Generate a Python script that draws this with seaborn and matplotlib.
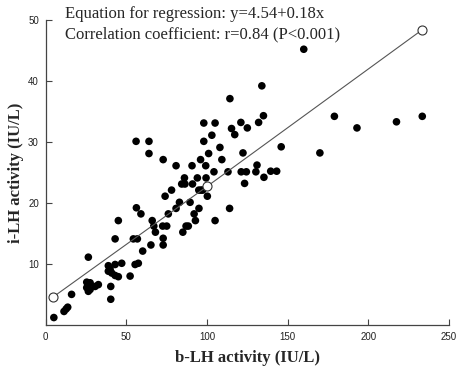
import numpy as np
import pandas as pd
import seaborn as sns
import matplotlib
matplotlib.use("Agg")
import matplotlib.pyplot as plt

# values
b_lh = [5, 11.3, 12.6, 13.6, 16, 26.4, 25.4, 27.5, 25.4, 27.5,
        30.6, 32.6, 26.4, 40.3, 40.3, 38.8, 39.9, 38.8, 40.9, 43,
        45, 43, 47.1, 52.3, 55.4, 57.4, 60.1, 43, 45, 54.3,
        56.8, 56.2, 59, 56, 64, 64, 65.2, 66, 67, 68,
        72.8, 72.8, 72.8, 72.5, 75, 74, 76, 78, 80.8, 80.8,
        82.9, 84.3, 86, 86.3, 85, 87, 88.4, 89.5, 90.7, 91,
        92, 92.8, 94, 94.9, 96.3, 97.3, 95, 96, 98, 98,
        99.2, 99.4, 100.2, 101, 103, 104.3, 105, 105, 108, 109.2,
        113, 114, 114.2, 115.2, 117.2, 121, 125, 132, 122.3, 121.2,
        124.4, 131, 130.3, 135.3, 139.5, 143.2, 123.3, 134, 135, 160,
        146, 170, 179, 193, 217.5, 233.5]
i_lh = [1.2, 2.2, 2.6, 2.9, 5.0, 11.1, 7.0, 6.9, 6.1, 5.8,
        6.3, 6.6, 5.5, 6.3, 4.2, 9.7, 9.1, 8.8, 8.5, 8.1,
        7.9, 9.9, 10.1, 8.0, 9.9, 10.1, 12.1, 14.1, 17.1, 14.1,
        14.1, 19.2, 18.2, 30.1, 30.1, 28.1, 13.1, 17.1, 16.2, 15.2,
        27.1, 14.2, 13.1, 16.2, 16.2, 21.1, 18.2, 22.1, 26.1, 19.1,
        20.1, 23.1, 24.1, 23.1, 15.2, 16.2, 16.2, 20.1, 26.1, 23.1,
        18.2, 17.1, 24.1, 22.1, 22.1, 22.1, 19.1, 27.1, 33.1, 30.1,
        26.1, 24.1, 21.1, 28.1, 31.1, 25.1, 33.1, 17.1, 29.1, 27.1,
        25.1, 19.1, 37.1, 32.2, 31.2, 33.2, 32.3, 33.2, 28.2, 25.1,
        25.1, 26.2, 25.1, 24.2, 25.2, 25.2, 23.2, 39.2, 34.3, 45.2,
        29.2, 28.2, 34.2, 32.3, 33.3, 34.2]

# regression line as drawn (ends and middle marked with open circles)
line_x = [4.7, 100, 233.5]
line_y = [4.6, 22.7, 48.4]

x_ticks = [0, 50, 100, 150, 200, 250]
y_ticks = [10, 20, 30, 40, 50]

df = pd.DataFrame({"b": b_lh, "i": i_lh})
reg = pd.DataFrame({"x": line_x, "y": line_y})

sns.set_theme(style="ticks")
plt.rcParams["font.family"] = ["Liberation Serif", "DejaVu Serif"]

fig = plt.figure(figsize=(4.72, 3.70), dpi=100)
ax = fig.add_axes([0.097, 0.122, 0.854, 0.824])

sns.lineplot(data=reg, x="x", y="y", ax=ax, color="#555555", lw=0.8,
             marker="o", markersize=6.5, markerfacecolor="white",
             markeredgecolor="#333333", markeredgewidth=0.8, zorder=3)
sns.scatterplot(data=df, x="b", y="i", ax=ax, color="black", s=30,
                edgecolor="none", zorder=2)

ax.set_xlim(0, 250)
ax.set_ylim(0, 50)
ax.set_xticks(x_ticks)
ax.set_yticks(y_ticks)
ax.tick_params(direction="in", length=4, width=0.8, color="#444444",
               labelsize=7, labelcolor="#222222")
for lab in ax.get_xticklabels() + ax.get_yticklabels():
    lab.set_family(["Liberation Sans", "DejaVu Sans"])
ax.tick_params(axis="x", pad=5)
ax.tick_params(axis="y", pad=5)

sns.despine(ax=ax)
for s in ["left", "bottom"]:
    ax.spines[s].set_color("#444444")
    ax.spines[s].set_linewidth(0.9)

ax.set_xlabel("b-LH activity (IU/L)", fontsize=12, fontweight="bold", labelpad=6)
ax.set_ylabel("i-LH activity (IU/L)", fontsize=12, fontweight="bold", labelpad=3)

fig.text(0.138, 0.962, "Equation for regression: y=4.54+0.18x", fontsize=12,
         va="center", ha="left")
fig.text(0.138, 0.908, "Correlation coefficient: r=0.84 (P<0.001)", fontsize=12,
         va="center", ha="left")

fig.savefig("out.png", dpi=100)
